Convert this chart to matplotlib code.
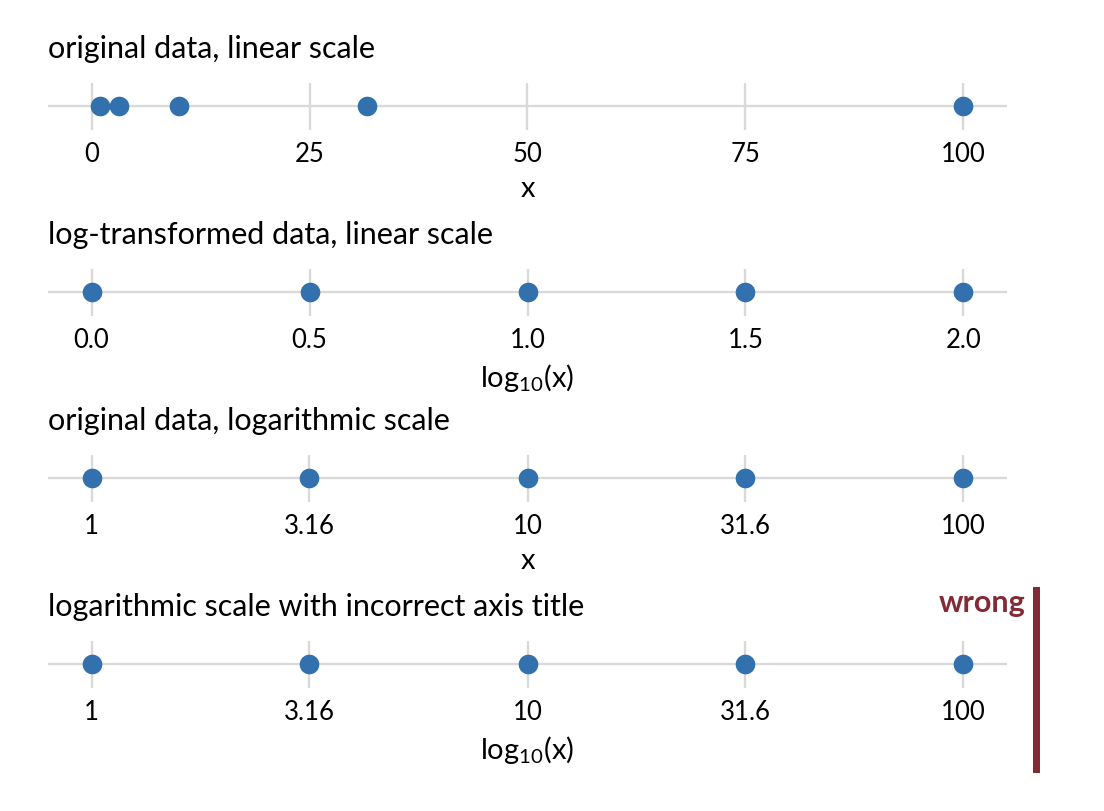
import matplotlib
matplotlib.use("Agg")
import matplotlib.pyplot as plt
from matplotlib.patches import Rectangle

# data
x_values = [1, 3.16, 10, 31.6, 100]
log_values = [0.0, 0.5, 1.0, 1.5, 2.0]

linear_ticks = [0, 25, 50, 75, 100]
linear_labels = ["0", "25", "50", "75", "100"]
logval_ticks = [0.0, 0.5, 1.0, 1.5, 2.0]
logval_labels = ["0.0", "0.5", "1.0", "1.5", "2.0"]
logscale_ticks = [1, 3.16, 10, 31.6, 100]
logscale_labels = ["1", "3.16", "10", "31.6", "100"]

titles = ["original data, linear scale",
          "log-transformed data, linear scale",
          "original data, logarithmic scale",
          "logarithmic scale with incorrect axis title"]
axis_titles = ["x", r"log$_{\mathregular{10}}$(x)", "x", r"log$_{\mathregular{10}}$(x)"]

plt.rcParams['font.family'] = ['Lato', 'DejaVu Sans']

W, H = 1104, 812
fig = plt.figure(figsize=(W / 100, H / 100), dpi=100)

point_col = "#3370ae"
grid_col = "#d9d9d9"

panels = [
    (x_values, linear_ticks, linear_labels, "linear"),
    (log_values, logval_ticks, logval_labels, "linear"),
    (x_values, logscale_ticks, logscale_labels, "log"),
    (x_values, logscale_ticks, logscale_labels, "log"),
]

for i, (vals, ticks, labels, scale) in enumerate(panels):
    c = 107 + 186 * i
    ax = fig.add_axes([48 / W, 1 - (c + 23.5) / H, 959 / W, 47 / H])
    if scale == "log":
        ax.set_xscale("log")
        ax.set_xlim(10 ** -0.1, 10 ** 2.1)
    else:
        lo, hi = min(ticks), max(ticks)
        pad = (hi - lo) * 0.05
        ax.set_xlim(lo - pad, hi + pad)
    ax.set_ylim(-1, 1)
    ax.axhline(0, color=grid_col, lw=1.7, zorder=1)
    ax.set_xticks(ticks)
    ax.set_xticklabels(labels)
    ax.minorticks_off()
    ax.set_yticks([])
    ax.grid(axis="x", color=grid_col, lw=1.7, zorder=1)
    ax.set_axisbelow(True)
    for s in ax.spines.values():
        s.set_visible(False)
    ax.tick_params(axis="x", length=0, pad=8.5, labelsize=18.5)
    ax.scatter(vals, [0] * len(vals), s=200, color=point_col, zorder=3,
               linewidths=0, clip_on=False)
    ax.set_xlabel(axis_titles[i], fontsize=21, labelpad=6.5)
    fig.text(48 / W, 1 - (58 + 186 * i) / H, titles[i], fontsize=22,
             va="baseline", ha="left")

# "wrong" marker for the last panel
fig.text(1025 / W, 1 - 612 / H, "wrong", color="#832a35", fontsize=22,
         fontweight="bold", ha="right", va="baseline")
fig.add_artist(Rectangle((1033 / W, 1 - 774 / H), 7 / W, 186 / H,
                         transform=fig.transFigure, color="#832a35", lw=0))

fig.savefig("out.png", dpi=100)
